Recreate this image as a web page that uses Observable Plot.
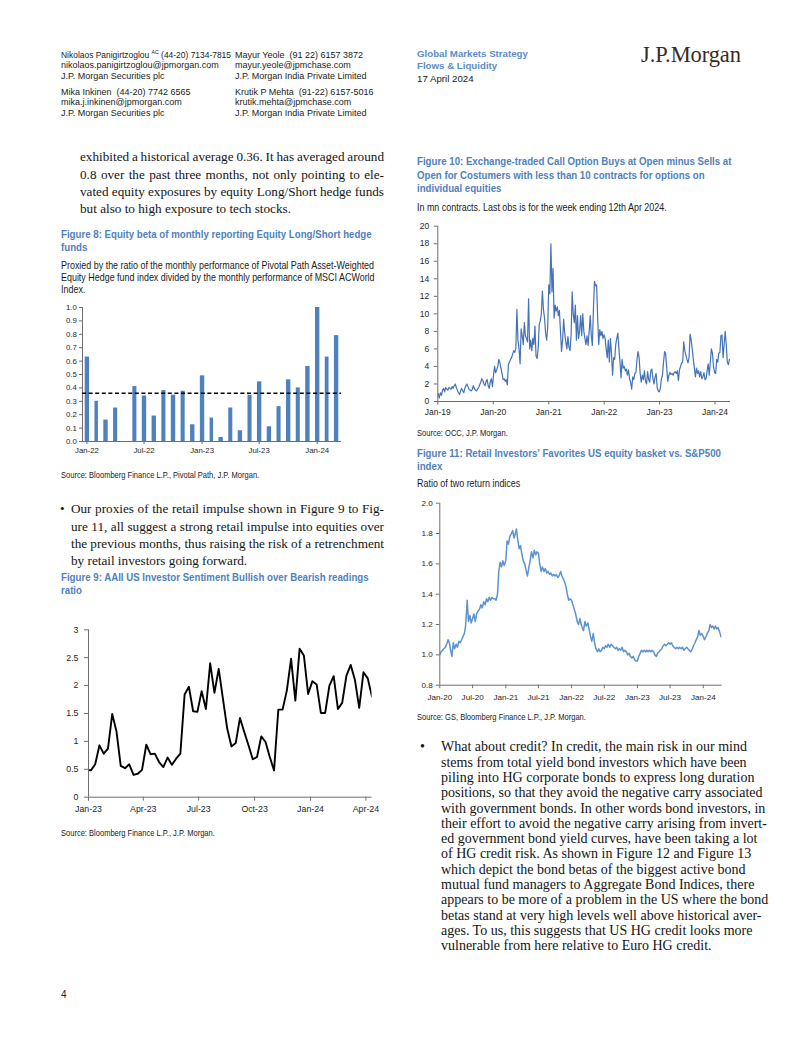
<!DOCTYPE html>
<html>
<head>
<meta charset="utf-8">
<script src="https://cdn.jsdelivr.net/npm/d3@7"></script>
<script src="https://cdn.jsdelivr.net/npm/@observablehq/plot@0.6"></script>
<style>
html,body{margin:0;padding:0;background:#fff;}
#page{position:relative;width:802px;height:1037px;overflow:hidden;background:#fff;font-family:"Liberation Sans",Arial,sans-serif;color:#111;}
.t{position:absolute;white-space:nowrap;}
.hdr{font-size:9px;line-height:10.7px;color:#1a1a1a;}
.hblue{font-size:9.7px;line-height:12.7px;font-weight:bold;color:#5a8dc8;}
.hblack{font-size:9.7px;line-height:12.7px;color:#1a1a1a;}
.logo{font-family:"Liberation Serif","Times New Roman",serif;font-size:22.5px;line-height:24px;color:#3b2a20;letter-spacing:-0.1px;}
.serif{font-family:"Liberation Serif","Times New Roman",serif;font-size:13.2px;color:#141414;}
.serifR{font-family:"Liberation Serif","Times New Roman",serif;font-size:14px;color:#141414;}
.narrow{transform:scaleX(0.82);transform-origin:0 0;}
.ftitle{font-weight:bold;font-size:11.8px;line-height:13px;color:#4f81bd;}
.fsub{font-size:10.9px;line-height:12px;color:#1a1a1a;}
.src{font-size:9.2px;line-height:10px;color:#1a1a1a;}
</style>
</head>
<body>
<div id="page"></div>
<script>
// ---------------- DATA ----------------
// Figure 8: monthly equity beta (May-22 has no bar)
const fig8Months = ["2022-01","2022-02","2022-03","2022-04","2022-05","2022-06","2022-07","2022-08","2022-09","2022-10","2022-11","2022-12",
  "2023-01","2023-02","2023-03","2023-04","2023-05","2023-06","2023-07","2023-08","2023-09","2023-10","2023-11","2023-12",
  "2024-01","2024-02","2024-03"];
const fig8Beta = [0.63,0.30,0.16,0.25,null,0.41,0.34,0.19,0.38,0.345,0.375,0.125,
  0.49,0.175,0.03,0.25,0.08,0.345,0.445,0.11,0.26,0.46,0.40,0.56,
  1.00,0.63,0.79];
const fig8Average = 0.36;
const fig8YTicks = [0,0.1,0.2,0.3,0.4,0.5,0.6,0.7,0.8,0.9,1.0];
const fig8XTicks = ["2022-01","2022-07","2023-01","2023-07","2024-01"];

// Figure 9: AAII bull/bear ratio, weekly from 29 Dec 2022
const fig9Start = "2022-12-29";
const fig9Ratio = [0.49,0.48,0.59,0.93,0.78,0.87,1.49,1.18,0.56,0.52,0.59,0.40,0.42,0.49,0.94,0.77,0.78,0.63,0.54,0.71,
  0.58,0.69,0.78,1.84,1.98,1.54,1.53,1.90,1.58,2.40,1.87,2.30,1.76,1.23,0.91,0.97,1.42,1.17,0.93,0.68,
  0.72,1.09,0.99,0.72,0.48,1.57,1.57,1.91,2.48,1.73,2.66,2.54,1.85,2.08,2.02,1.51,1.51,2.00,2.17,1.58,
  1.69,2.18,2.37,2.10,1.60,2.24,2.13,1.80];
const fig9Domain = ["2023-01-01","2024-04-11"];
const fig9YTicks = [0,0.5,1,1.5,2,2.5,3];
const fig9XTicks = ["2023-01-01","2023-04-01","2023-07-01","2023-10-01","2024-01-01","2024-04-01"];

// Figure 10: call buys minus sells (mn contracts), weekly from 4 Jan 2019
const fig10Start = "2019-01-04";
const fig10Y2019 = [0.9,0.4,1.0,0.7,1.3,1.5,1.1,1.6,1.4,1.3,1.6,1.5,1.4,1.7,1.5,1.8,2.0,1.6,1.3,1.0,0.8,1.2,1.5,1.2,1.0,1.5,
  1.8,2.0,1.7,1.4,1.3,1.2,1.4,1.8,1.5,1.3,1.2,1.4,1.6,1.9,2.2,2.6,2.4,2.0,1.8,2.3,2.5,1.8,1.5,2.3,2.6,1.7];
const fig10Y2020 = [3.0,4.0,3.3,3.6,4.0,4.8,4.4,3.8,3.2,2.5,2.6,2.3,2.5,1.9,4.2,4.5,4.8,5.0,5.4,5.8,5.6,6.0,10.5,7.0,6.0,4.3,
  8.3,7.5,6.5,9.0,7.5,7.2,6.8,11.7,6.0,7.0,5.8,7.2,6.5,8.6,5.2,4.9,6.0,8.8,9.2,10.0,12.6,10.5,9.5,7.8,7.0,8.5];
const fig10Y2021 = [13.3,12.3,18.0,12.5,15.2,9.5,11.0,10.3,10.8,9.8,10.4,8.0,5.7,7.0,9.4,7.8,6.8,6.0,7.4,6.2,5.8,7.5,12.5,10.0,9.0,11.0,
  7.0,9.8,7.2,8.0,9.8,7.5,10.0,8.0,7.2,6.5,7.5,6.4,8.0,9.8,7.5,6.4,10.5,13.7,13.2,13.3,9.5,6.5,8.2,7.5,8.0,7.2,7.6];
const fig10Y2022 = [7.2,6.0,5.0,7.0,4.5,7.2,5.5,3.0,5.0,4.8,6.5,7.2,7.8,6.0,4.5,2.7,4.8,3.8,4.0,3.5,3.7,3.0,3.6,2.6,2.2,1.4,
  2.8,2.5,3.2,3.3,4.8,5.7,5.0,3.2,2.2,3.0,2.5,3.5,2.3,2.0,3.4,2.5,2.2,3.5,3.7,2.6,2.0,2.8,3.2,1.6,1.2,1.1];
const fig10Y2023 = [1.5,2.6,3.0,4.5,5.7,5.4,3.8,2.3,3.0,3.3,3.1,3.2,3.0,3.3,3.4,3.2,3.5,2.4,3.6,4.0,4.4,4.5,6.8,5.8,5.3,4.8,
  4.4,5.0,7.7,7.0,6.0,4.8,3.8,2.8,3.8,3.2,3.5,2.8,3.4,2.6,2.8,3.3,2.5,2.6,3.5,4.3,3.0,4.5,6.0,5.5,4.0,3.3];
const fig10Y2024 = [3.2,4.8,4.5,5.5,5.6,7.5,7.6,5.0,6.5,8.0,6.5,4.5,4.2,4.8,4.8];
const fig10Domain = ["2019-01-01","2024-04-12"];
const fig10YTicks = [0,2,4,6,8,10,12,14,16,18,20];
const fig10XTicks = ["2019-01-01","2020-01-01","2021-01-01","2022-01-01","2023-01-01","2024-01-01"];

// Figure 11: ratio of two return indices, four readings per month (1st, 8th, 16th, 23rd)
const fig11Days = [1,8,16,23];
const fig11Y2020 = [1.00,1.02,1.03,1.04, 1.05,1.07,1.10,1.08, 1.03,0.99,1.08,1.04, 1.07,1.05,1.09,1.08, 1.10,1.12,1.14,1.19, 1.36,1.22,1.26,1.21,
  1.24,1.27,1.22,1.27, 1.29,1.30,1.33,1.31, 1.35,1.33,1.37,1.35, 1.38,1.36,1.38,1.37, 1.37,1.36,1.40,1.55, 1.61,1.58,1.62,1.59];
const fig11Y2021 = [1.62,1.75,1.73,1.78, 1.80,1.82,1.77,1.80, 1.83,1.76,1.70,1.72, 1.66,1.62,1.60,1.56, 1.52,1.57,1.62,1.68, 1.64,1.69,1.66,1.68,
  1.67,1.60,1.55,1.58, 1.55,1.57,1.54,1.55, 1.53,1.54,1.52,1.53, 1.52,1.53,1.51,1.52, 1.55,1.52,1.50,1.48, 1.45,1.40,1.36,1.37];
const fig11Y2022 = [1.36,1.33,1.30,1.27, 1.22,1.20,1.24,1.20, 1.18,1.16,1.22,1.19, 1.21,1.17,1.12,1.09, 1.14,1.08,1.04,1.02, 1.04,1.02,1.03,1.05,
  1.04,1.06,1.05,1.07, 1.05,1.07,1.06,1.05, 1.04,1.05,1.03,1.04, 1.03,1.05,1.02,1.03, 1.02,1.00,1.01,0.99, 0.98,0.99,0.97,0.96];
const fig11Y2023 = [0.96,0.99,1.01,1.03, 1.02,1.03,1.02,1.03, 1.02,1.03,1.02,1.03, 1.02,1.00,0.99,1.01, 1.02,1.03,1.04,1.06, 1.07,1.06,1.07,1.08,
  1.07,1.08,1.06,1.05, 1.04,1.05,1.04,1.05, 1.04,1.05,1.03,1.04, 1.05,1.04,1.03,1.02, 1.04,1.06,1.08,1.10, 1.12,1.16,1.13,1.14];
const fig11Y2024 = [1.12,1.10,1.12,1.14, 1.16,1.20,1.18,1.19, 1.17,1.19,1.17,1.18, 1.15,1.12];
const fig11Domain = ["2020-01-01","2024-04-15"];
const fig11YTicks = [0.8,1.0,1.2,1.4,1.6,1.8,2.0];
const fig11XTicks = ["2020-01-01","2020-07-01","2021-01-01","2021-07-01","2022-01-01","2022-07-01","2023-01-01","2023-07-01","2024-01-01"];

// ---------------- PAGE TEXT ----------------
const page = document.getElementById("page");
function put(html, cls, left, top, style = "") {
  const d = document.createElement("div");
  d.className = "t " + cls;
  d.style.cssText = `left:${left}px;top:${top}px;${style}`;
  d.innerHTML = html;
  page.appendChild(d);
  return d;
}
// one div per line; optional justification to a target width via word-spacing
function lines(arr, cls, left, firstCenter, lh, opts = {}) {
  return arr.map((txt, i) => {
    const top = firstCenter + i * lh - lh / 2 - (opts.shift || 0);
    const d = put(txt, cls, left, top, `line-height:${lh}px;`);
    if (opts.width && i < arr.length - 1) {
      const w = d.getBoundingClientRect().width;
      const n = (d.textContent.match(/ /g) || []).length;
      if (n) d.style.wordSpacing = ((opts.width - w) / n) + "px";
    }
    return d;
  });
}
function fitX(d, target) {
  const w = d.getBoundingClientRect().width;
  d.style.transformOrigin = "0 0";
  d.style.transform = `scaleX(${target / w})`;
}

// header
const nameLine = lines(["Nikolaos Panigirtzoglou <span style=\"font-size:5.5px;position:relative;top:-3.5px;line-height:0\">AC</span> (44-20) 7134-7815",
       "nikolaos.panigirtzoglou@jpmorgan.com", "J.P. Morgan Securities plc"], "hdr", 61, 55, 10.7);
fitX(nameLine[0], 170);
lines(["Mika Inkinen&nbsp;&nbsp;(44-20) 7742 6565", "mika.j.inkinen@jpmorgan.com", "J.P. Morgan Securities plc"], "hdr", 61, 92, 10.7);
lines(["Mayur Yeole&nbsp;&nbsp;(91 22) 6157 3872", "mayur.yeole@jpmchase.com", "J.P. Morgan India Private Limited"], "hdr", 235, 55, 10.7);
lines(["Krutik P Mehta&nbsp;&nbsp;(91-22) 6157-5016", "krutik.mehta@jpmchase.com", "J.P. Morgan India Private Limited"], "hdr", 235, 92, 10.7);
lines(["Global Markets Strategy", "Flows &amp; Liquidity"], "hblue", 417, 54, 12.7);
lines(["17 April 2024"], "hblack", 417, 79.4, 12.7);
put("J.P.Morgan", "logo", 641, 42.5);

// left column body text
lines(["exhibited a historical average 0.36. It has averaged around",
       "0.8 over the past three months, not only pointing to ele-",
       "vated equity exposures by equity Long/Short hedge funds",
       "but also to high exposure to tech stocks."], "serif", 80, 158, 17.3, {width: 304, shift: 1});

lines(["Figure 8: Equity beta of monthly reporting Equity Long/Short hedge", "funds"], "ftitle narrow", 61, 234, 13);
lines(["Proxied by the ratio of the monthly performance of Pivotal Path Asset-Weighted",
       "Equity Hedge fund index divided by the monthly performance of MSCI ACWorld",
       "Index."], "fsub narrow", 61, 265, 12);
lines(["Source: Bloomberg Finance L.P., Pivotal Path, J.P. Morgan."], "src narrow", 61, 475, 10);

put("•", "serif", 60, 510 - 9.75, "line-height:17.5px;");
lines(["Our proxies of the retail impulse shown in Figure 9 to Fig-",
       "ure 11, all suggest a strong retail impulse into equities over",
       "the previous months, thus raising the risk of a retrenchment",
       "by retail investors going forward."], "serif", 71, 510, 17.3, {width: 313, shift: 1});

lines(["Figure 9: AAII US Investor Sentiment Bullish over Bearish readings", "ratio"], "ftitle narrow", 61, 577, 13);
lines(["Source: Bloomberg Finance L.P., J.P. Morgan."], "src narrow", 61, 833, 10);

// right column
lines(["Figure 10: Exchange-traded Call Option Buys at Open minus Sells at",
       "Open for Costumers with less than 10 contracts for options on",
       "individual equities"], "ftitle narrow", 417, 162, 13.5);
lines(["In mn contracts. Last obs is for the week ending 12th Apr 2024."], "fsub narrow", 417, 207, 12);
lines(["Source: OCC, J.P. Morgan."], "src narrow", 417, 433, 10);

lines(["Figure 11: Retail Investors' Favorites US equity basket vs. S&amp;P500", "index"], "ftitle narrow", 417, 453, 13);
lines(["Ratio of two return indices"], "fsub narrow", 417, 483, 12);
lines(["Source: GS, Bloomberg Finance L.P., J.P. Morgan."], "src narrow", 417, 717, 10);

put("•", "serifR", 420, 748 - 8.65, "line-height:15.3px;");
lines(["What about credit? In credit, the main risk in our mind",
       "stems from total yield bond investors which have been",
       "piling into HG corporate bonds to express long duration",
       "positions, so that they avoid the negative carry associated",
       "with government bonds. In other words bond investors, in",
       "their effort to avoid the negative carry arising from invert-",
       "ed government bond yield curves, have been taking a lot",
       "of HG credit risk. As shown in Figure 12 and Figure 13",
       "which depict the bond betas of the biggest active bond",
       "mutual fund managers to Aggregate Bond Indices, there",
       "appears to be more of a problem in the US where the bond",
       "betas stand at very high levels well above historical aver-",
       "ages. To us, this suggests that US HG credit looks more",
       "vulnerable from here relative to Euro HG credit."], "serifR", 441, 748, 15.3, {shift: 1});

put("4", "", 61, 989, "font-size:10px;line-height:12px;color:#222;");

// ---------------- CHARTS ----------------
const axisGray = "#6e6e6e";
const textCol = "#262626";
const sans = "Liberation Sans, Arial, sans-serif";
const pDay = d3.utcParse("%Y-%m-%d");
const pMonth = d3.utcParse("%Y-%m");
const fmtMY = d3.utcFormat("%b-%y");

function mount(svg, left, top) {
  svg.style.position = "absolute";
  svg.style.left = left + "px";
  svg.style.top = top + "px";
  page.appendChild(svg);
}

// Figure 8
const fig8Data = fig8Months.map((m, i) => ({date: pMonth(m), value: fig8Beta[i]})).filter(d => d.value !== null);
const fig8Start = pMonth(fig8Months[0]);
const fig8End = d3.utcMonth.offset(pMonth(fig8Months[fig8Months.length - 1]), 1);
mount(Plot.plot({
  width: 300, height: 165, marginLeft: 32, marginRight: 9, marginTop: 12, marginBottom: 19,
  style: {fontFamily: sans, fontSize: "7.8px", color: textCol, background: "transparent", overflow: "visible"},
  x: {type: "utc", domain: [fig8Start, fig8End], label: null},
  y: {domain: [0, 1], label: null},
  marks: [
    Plot.rectY(fig8Data, {x: "date", y: "value", interval: "month", fill: "#4f81bd", insetLeft: 2.7, insetRight: 2.7}),
    Plot.ruleY([0], {stroke: axisGray}),
    Plot.ruleX([fig8Start], {stroke: axisGray}),
    Plot.ruleY([fig8Average], {stroke: "#000", strokeWidth: 1.6, strokeDasharray: "4,2.6"}),
    Plot.axisY({ticks: fig8YTicks, tickFormat: d3.format(".1f"), tickSize: 3, tickPadding: 2.7, stroke: axisGray, label: null}),
    Plot.axisX({ticks: fig8XTicks.map(m => d3.utcDay.offset(pMonth(m), 14)), tickFormat: fmtMY, tickSize: 3, tickPadding: 3, stroke: axisGray, label: null})
  ]
}), 50, 295);

// Figure 9
const fig9Data = fig9Ratio.map((v, i) => ({date: d3.utcDay.offset(pDay(fig9Start), 7 * i), value: v}));
mount(Plot.plot({
  width: 335, height: 200, marginLeft: 38, marginRight: 13.5, marginTop: 14.3, marginBottom: 18.3,
  style: {fontFamily: sans, fontSize: "8.8px", color: textCol, background: "transparent", overflow: "visible"},
  x: {type: "utc", domain: fig9Domain.map(pDay), label: null},
  y: {domain: [0, 3], label: null},
  marks: [
    Plot.lineY(fig9Data, {x: "date", y: "value", stroke: "#000", strokeWidth: 1.9, clip: true}),
    Plot.ruleY([0], {stroke: axisGray}),
    Plot.ruleX([pDay(fig9Domain[0])], {stroke: axisGray}),
    Plot.axisY({ticks: fig9YTicks, tickFormat: d => String(d), tickSize: 4, tickPadding: 6, stroke: axisGray, label: null}),
    Plot.axisX({ticks: fig9XTicks.map(pDay), tickFormat: fmtMY, tickSize: 4, tickPadding: 5, stroke: axisGray, label: null})
  ]
}), 50, 615);

// Figure 10
const fig10Values = [].concat(fig10Y2019, fig10Y2020, fig10Y2021, fig10Y2022, fig10Y2023, fig10Y2024);
const fig10Data = fig10Values.map((v, i) => ({date: d3.utcDay.offset(pDay(fig10Start), 7 * i), value: v}));
mount(Plot.plot({
  width: 335, height: 205, marginLeft: 32.3, marginRight: 10, marginTop: 10.7, marginBottom: 19,
  style: {fontFamily: sans, fontSize: "8.5px", color: textCol, background: "transparent", overflow: "visible"},
  x: {type: "utc", domain: fig10Domain.map(pDay), label: null},
  y: {domain: [0, 20], label: null},
  marks: [
    Plot.lineY(fig10Data, {x: "date", y: "value", stroke: "#4472b8", strokeWidth: 1.2, clip: true}),
    Plot.ruleY([0], {stroke: axisGray}),
    Plot.ruleX([pDay(fig10Domain[0])], {stroke: axisGray}),
    Plot.axisY({ticks: fig10YTicks, tickSize: 3.5, tickPadding: 5, stroke: axisGray, label: null}),
    Plot.axisX({ticks: fig10XTicks.map(pDay), tickFormat: fmtMY, tickSize: 3.5, tickPadding: 4, stroke: axisGray, label: null})
  ]
}), 405, 215);

// Figure 11
const fig11Years = [[2020, fig11Y2020], [2021, fig11Y2021], [2022, fig11Y2022], [2023, fig11Y2023], [2024, fig11Y2024]];
const fig11Data = fig11Years.flatMap(([yr, vals]) => vals.map((v, i) => ({
  date: new Date(Date.UTC(yr, Math.floor(i / 4), fig11Days[i % 4])), value: v})));
mount(Plot.plot({
  width: 330, height: 210, marginLeft: 34.3, marginRight: 13.3, marginTop: 7.7, marginBottom: 20.3,
  style: {fontFamily: sans, fontSize: "8.1px", color: textCol, background: "transparent", overflow: "visible"},
  x: {type: "utc", domain: fig11Domain.map(pDay), label: null},
  y: {domain: [0.8, 2.0], label: null},
  marks: [
    Plot.lineY(fig11Data, {x: "date", y: "value", stroke: "#5b93d1", strokeWidth: 1.5, clip: true}),
    Plot.ruleY([0.8], {stroke: axisGray}),
    Plot.ruleX([pDay(fig11Domain[0])], {stroke: axisGray}),
    Plot.axisY({ticks: fig11YTicks, tickFormat: d3.format(".1f"), tickSize: 3.5, tickPadding: 3.5, stroke: axisGray, label: null}),
    Plot.axisX({ticks: fig11XTicks.map(pDay), tickFormat: fmtMY, tickSize: 3.5, tickPadding: 5.5, stroke: axisGray, label: null})
  ]
}), 405, 495);
</script>
</body>
</html>
